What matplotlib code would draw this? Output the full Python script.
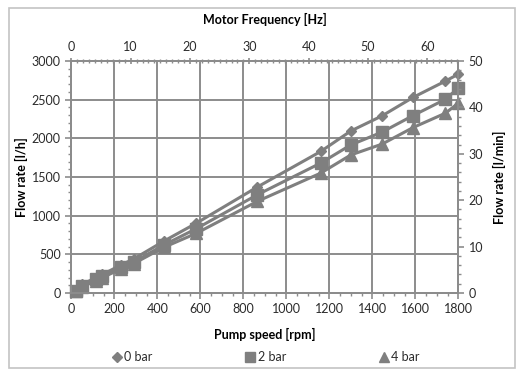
import numpy as np
import matplotlib.pyplot as plt
from matplotlib.patches import Rectangle
from matplotlib.ticker import MultipleLocator

plt.rcParams['font.family'] = ['Lato', 'DejaVu Sans']
plt.rcParams['font.size'] = 9

# pump speed [rpm] and flow rate [l/h] at three back pressures
rpm = [20, 50, 115, 145, 230, 290, 430, 580, 865, 1160, 1300, 1445, 1590, 1740, 1800]
flow_0bar = [40, 110, 200, 240, 360, 440, 670, 900, 1370, 1830, 2095, 2290, 2530, 2740, 2830]
flow_2bar = [30, 90, 180, 220, 330, 400, 620, 830, 1270, 1680, 1915, 2080, 2295, 2505, 2650]
flow_4bar = [20, 80, 160, 200, 310, 380, 590, 770, 1185, 1550, 1785, 1925, 2140, 2325, 2455]
labels = ['0 bar', '2 bar', '4 bar']
markers = ['D', 's', '^']
msizes = [5.5, 8, 8]

gray = '#7f7f7f'
gridc = '#8c8c8c'
txt = '#2b2b2b'

fig = plt.figure(figsize=(5.28, 3.79), dpi=100)
ax = fig.add_axes([71.3/528, 1-293/379, 387/528, 232/379])

for y, lab, m, ms in zip([flow_0bar, flow_2bar, flow_4bar], labels, markers, msizes):
    ax.plot(rpm, y, color=gray, lw=2.2, marker=m, ms=ms, mec=gray, mfc=gray,
            label=lab, zorder=3, clip_on=False)

ax.set_xlim(0, 1800)
ax.set_ylim(0, 3000)
ax.xaxis.set_major_locator(MultipleLocator(200))
ax.xaxis.set_minor_locator(MultipleLocator(50))
ax.yaxis.set_major_locator(MultipleLocator(500))
ax.yaxis.set_minor_locator(MultipleLocator(100))
ax.grid(True, which='major', color=gridc, lw=1.4)
ax.set_axisbelow(True)
ax.set_xlabel('Pump speed [rpm]', fontweight='bold', labelpad=9)
ax.set_ylabel('Flow rate [l/h]', fontweight='bold', labelpad=3)
ax.tick_params(which='both', direction='out', colors=gridc, labelcolor=txt)
ax.tick_params(which='major', length=4, width=1.2)
ax.tick_params(which='minor', length=2.5, width=1)

# top axis: motor frequency
axt = ax.twiny()
axt.set_xlim(0, 65.2)
axt.xaxis.set_major_locator(MultipleLocator(10))
axt.xaxis.set_minor_locator(MultipleLocator(1))
axt.set_xlabel('Motor Frequency [Hz]', fontweight='bold', labelpad=12)
axt.tick_params(which='both', direction='inout', colors=gridc, labelcolor=txt)
axt.tick_params(which='major', length=5, width=1.2)
axt.tick_params(which='minor', length=3, width=1)

# right axis: flow rate in l/min
axr = ax.twinx()
axr.set_ylim(0, 50)
axr.yaxis.set_major_locator(MultipleLocator(10))
axr.yaxis.set_minor_locator(MultipleLocator(2))
axr.set_ylabel('Flow rate [l/min]', fontweight='bold', labelpad=7)
axr.tick_params(which='both', direction='out', colors=gridc, labelcolor=txt)
axr.tick_params(which='major', length=4, width=1.2)
axr.tick_params(which='minor', length=2.5, width=1)

for a in (ax, axt, axr):
    for s in a.spines.values():
        s.set_color(gridc)
        s.set_linewidth(1.4)

leg_h = [plt.Line2D([], [], ls='none', marker=m, ms=ms * 0.9, color=gray) for m, ms in zip(markers, msizes)]
fig.legend(leg_h, labels, loc='center', bbox_to_anchor=(265/528, 1-357/379), ncol=3,
           frameon=False, columnspacing=7.3, handletextpad=0.1, handlelength=1.0,
           labelcolor=txt, fontsize=9)

fig.patches.append(Rectangle((9/528, 1-368/379), 506/528, 360/379, transform=fig.transFigure,
                             fill=False, edgecolor='#c4c4c4', lw=1.2))

plt.savefig('out.png', dpi=100)
